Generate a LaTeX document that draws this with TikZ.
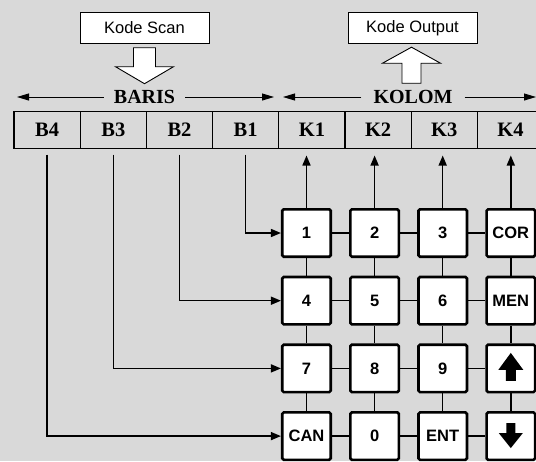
\documentclass[tikz,border=0pt]{standalone}
\usepackage{fontspec}
\setmainfont{Liberation Serif}
\setsansfont{Liberation Sans}
\usetikzlibrary{arrows.meta, positioning, calc}
\definecolor{latar}{HTML}{D9D9D9}
\tikzset{
  kotakKode/.style={
    draw, line width=0.9pt, fill=white,
    minimum width=129pt, minimum height=30.5pt,
    font=\sffamily\fontsize{16.5}{18}\selectfont
  },
  blokPanah/.style={draw, line width=0.9pt, fill=white, line join=miter},
  sel/.style={
    draw, line width=1.2pt, minimum width=66.2pt, minimum height=37pt,
    inner sep=0pt, outer sep=0pt,
    font=\bfseries\fontsize{20.5}{22}\selectfont
  },
  judul/.style={font=\bfseries\fontsize{20}{22}\selectfont, inner xsep=10pt},
  tombol/.style={
    draw, line width=2.6pt, fill=white, rounded corners=1.5pt,
    minimum width=48.5pt, minimum height=47.4pt, inner sep=0pt,
    font=\sffamily\bfseries\fontsize{16.5}{18}\selectfont
  },
  panahNaik/.style={path picture={
    \fill[black, sharp corners, shift={(path picture bounding box.center)}]
      (0,-15.5) -- (12.5,1.5) -- (5,1.5) -- (5,12.5) -- (-5,12.5)
      -- (-5,1.5) -- (-12.5,1.5) -- cycle;}},
  panahTurun/.style={path picture={
    \fill[black, sharp corners, shift={(path picture bounding box.center)}]
      (0,12) -- (12,-3) -- (4.5,-3) -- (4.5,-13) -- (-4.5,-13)
      -- (-4.5,-3) -- (-12,-3) -- cycle;}},
  panahTipis/.style={-{Triangle[length=12pt,width=7pt]}, line width=0.9pt},
  panah/.style={-{Triangle[length=10pt,width=8pt]}, line width=1.5pt},
  garis/.style={line width=1.5pt},
}
\begin{document}
\begin{tikzpicture}[x=1pt, y=-1pt, node distance=17pt]
  % latar
  \useasboundingbox (0,0) rectangle (536,461);
  \clip (0,0) rectangle (536,461);
  \fill[latar] (0,0) rectangle (536,461);

  % kode scan dan kode output
  \node[kotakKode] (scan) at (144.5,28) {Kode Scan};
  \node[kotakKode] (output) at (412.5,28) {Kode Output};
  \draw[blokPanah, shift={(scan.south)}]
    (-11,4) -- (11,4) -- (11,23) -- (29,23) -- (0,40) -- (-29,23) -- (-11,23) -- cycle;
  \draw[blokPanah, shift={(output.south)}]
    (-1,3.5) -- (28,19.5) -- (8.5,19.5) -- (8.5,39.5) -- (-10.5,39.5)
    -- (-10.5,19.5) -- (-30,19.5) -- cycle;

  % register baris / kolom
  \foreach \lbl [count=\i] in {B4,B3,B2,B1,K1,K2,K3,K4}
    \node[sel] (\lbl) at ({47.1+66.2*(\i-1)},130) {\lbl};

  \node[judul] (baris) at (144.5,97) {BARIS};
  \node[judul, inner xsep=12pt] (kolom) at (413,97) {KOLOM};
  \coordinate (barisKiri) at (17,97);
  \coordinate (barisKanan) at (274,97);
  \coordinate (kolomKiri) at (283,97);
  \coordinate (kolomKanan) at (536,97);
  \draw[panahTipis] (baris.west) -- (barisKiri);
  \draw[panahTipis] (baris.east) -- (barisKanan);
  \draw[panahTipis] (kolom.west) -- (kolomKiri);
  \draw[panahTipis] (kolom.east) -- (kolomKanan);

  % tombol keypad
  \node[tombol] (t11) at (306.5,233) {1};
  \node[tombol, right=of t11] (t12) {2};
  \node[tombol, right=of t12] (t13) {3};
  \node[tombol, right=of t13] (t14) {COR};
  \node[tombol, below=17.7pt of t11] (t21) {4};
  \node[tombol, right=of t21] (t22) {5};
  \node[tombol, right=of t22] (t23) {6};
  \node[tombol, right=of t23] (t24) {MEN};
  \node[tombol, below=17.7pt of t21] (t31) {7};
  \node[tombol, right=of t31] (t32) {8};
  \node[tombol, right=of t32] (t33) {9};
  \node[tombol, panahNaik, right=of t33] (t34) {};
  \node[tombol, below=17.7pt of t31] (t41) {CAN};
  \node[tombol, right=of t41] (t42) {0};
  \node[tombol, right=of t42] (t43) {ENT};
  \node[tombol, panahTurun, right=of t43] (t44) {};

  % sambungan antar tombol
  \foreach \r in {1,...,4}
    \foreach \c/\d in {1/2,2/3,3/4}
      \draw[garis] (t\r\c) -- (t\r\d);
  \foreach \c in {1,...,4}
    \foreach \r/\s in {1/2,2/3,3/4}
      \draw[garis] (t\r\c) -- (t\s\c);

  % baris ke tombol, tombol ke kolom
  \draw[panah, shorten <=6pt] (B1.south) |- (t11);
  \draw[panah, shorten <=6pt] (B2.south) |- (t21);
  \draw[panah, shorten <=6pt] (B3.south) |- (t31);
  \draw[panah, shorten <=6pt] (B4.south) |- (t41);
  \draw[panah, shorten >=7pt] (t11) -- (t11 |- K1.south);
  \draw[panah, shorten >=7pt] (t12) -- (t12 |- K2.south);
  \draw[panah, shorten >=7pt] (t13) -- (t13 |- K3.south);
  \draw[panah, shorten >=7pt] (t14) -- (t14 |- K4.south);
\end{tikzpicture}
\end{document}
